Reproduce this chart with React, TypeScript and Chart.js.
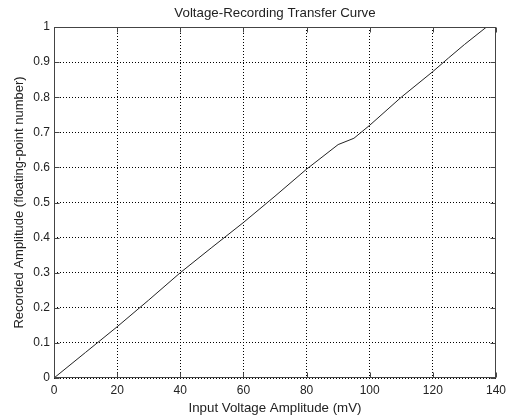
import { useEffect, useRef } from 'react';
import { Chart, registerables } from 'chart.js';

Chart.register(...registerables);

const inputMv = [0, 10, 20, 30, 40, 50, 60, 70, 80, 90, 95, 100, 110, 120, 125, 130, 137];
const recorded = [0, 0.073, 0.146, 0.222, 0.3, 0.372, 0.443, 0.518, 0.595, 0.665, 0.683, 0.72, 0.8, 0.873, 0.912, 0.95, 1.0];
const xTicks = [0, 20, 40, 60, 80, 100, 120, 140];
const yTicks = [0, 0.1, 0.2, 0.3, 0.4, 0.5, 0.6, 0.7, 0.8, 0.9, 1];

const titleText = 'Voltage-Recording Transfer Curve';
const xLabel = 'Input Voltage Amplitude (mV)';
const yLabel = 'Recorded Amplitude (floating-point number)';

const FONT = "'Liberation Sans', Arial, sans-serif";
const TEXT = '#222';

const boxPlugin = {
  id: 'matlabBox',
  afterDraw(chart: any) {
    const { ctx, chartArea: a, scales } = chart;
    const L = Math.round(a.left) + 0.5;
    const R = Math.round(a.right) - 0.5;
    const T = Math.round(a.top) + 0.5;
    const B = Math.round(a.bottom) - 0.5;
    const len = 5;
    ctx.save();
    ctx.strokeStyle = '#444';
    ctx.lineWidth = 1;
    ctx.setLineDash([]);
    ctx.strokeRect(L, T, R - L, B - T);
    ctx.beginPath();
    xTicks.forEach((v) => {
      const px = Math.round(scales.x.getPixelForValue(v)) + 0.5;
      ctx.moveTo(px, B);
      ctx.lineTo(px, B - len);
      ctx.moveTo(px, T);
      ctx.lineTo(px, T + len);
    });
    yTicks.forEach((v) => {
      const py = Math.round(scales.y.getPixelForValue(v)) + 0.5;
      ctx.moveTo(L, py);
      ctx.lineTo(L + len, py);
      ctx.moveTo(R, py);
      ctx.lineTo(R - len, py);
    });
    ctx.stroke();
    // title centred over the plot area
    ctx.fillStyle = TEXT;
    ctx.font = `13.3px ${FONT}`;
    ctx.textAlign = 'center';
    ctx.textBaseline = 'middle';
    ctx.fillText(titleText, (a.left + a.right) / 2, 13.5);
    ctx.restore();
  },
};

export default function App() {
  const ref = useRef<HTMLCanvasElement | null>(null);

  useEffect(() => {
    document.body.style.margin = '0';
    const canvas = ref.current;
    if (!canvas) return;
    const chart = new Chart(canvas, {
      type: 'line',
      data: {
        datasets: [
          {
            data: inputMv.map((x, i) => ({ x, y: recorded[i] })),
            borderColor: '#222',
            borderWidth: 1,
            pointRadius: 0,
            tension: 0,
            fill: false,
          },
        ],
      },
      options: {
        animation: false,
        responsive: false,
        layout: { padding: { left: 0, right: 11, top: 27, bottom: 0 } },
        plugins: {
          legend: { display: false },
          tooltip: { enabled: false },
          title: { display: false },
        },
        scales: {
          x: {
            type: 'linear',
            min: 0,
            max: 140,
            afterBuildTicks: (axis: any) => {
              axis.ticks = xTicks.map((v) => ({ value: v }));
            },
            afterFit: (axis: any) => {
              axis.height = 42;
            },
            ticks: {
              color: TEXT,
              font: { family: FONT, size: 12 },
              padding: 5,
              maxRotation: 0,
              autoSkip: false,
            },
            grid: { color: '#000', lineWidth: 1, drawTicks: false },
            border: { display: false, dash: [1, 2] },
            title: {
              display: true,
              text: xLabel,
              color: TEXT,
              font: { family: FONT, size: 13.3, lineHeight: 1.2 },
              padding: { top: 0, bottom: 4 },
            },
          },
          y: {
            type: 'linear',
            min: 0,
            max: 1,
            afterBuildTicks: (axis: any) => {
              axis.ticks = yTicks.map((v) => ({ value: v }));
            },
            afterFit: (axis: any) => {
              axis.width = 54;
            },
            ticks: {
              color: TEXT,
              font: { family: FONT, size: 12 },
              padding: 4,
              autoSkip: false,
              callback: (v: any) => String(Math.round(Number(v) * 10) / 10),
            },
            grid: { color: '#000', lineWidth: 1, drawTicks: false },
            border: { display: false, dash: [1, 2] },
            title: {
              display: true,
              text: yLabel,
              color: TEXT,
              font: { family: FONT, size: 13, lineHeight: 1.2 },
              padding: { top: 11.5, bottom: 0 },
            },
          },
        },
      },
      plugins: [boxPlugin],
    });
    return () => chart.destroy();
  }, []);

  return (
    <div style={{ width: 511, height: 420 }}>
      <canvas ref={ref} width={511} height={420} />
    </div>
  );
}
